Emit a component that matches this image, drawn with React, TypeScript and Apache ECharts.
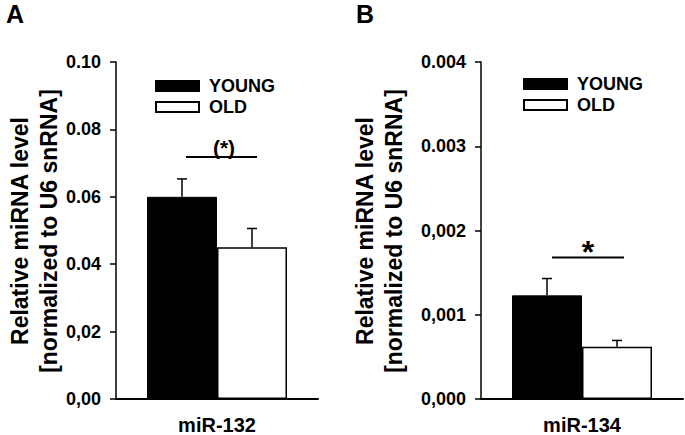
import React, { useEffect, useRef } from "react";
import * as echarts from "echarts";

// ---- data ----
const categoriesA = ["miR-132"];
const categoriesB = ["miR-134"];
const youngA = [0.06];
const youngSemA = [0.0053];
const oldA = [0.045];
const oldSemA = [0.0056];
const youngB = [0.00123];
const youngSemB = [0.0002];
const oldB = [0.00062];
const oldSemB = [0.000075];
const tickLabelsA = ["0,00", "0,02", "0.04", "0.06", "0.08", "0.10"];
const tickLabelsB = ["0,000", "0,001", "0,002", "0.003", "0.004"];
const sigA = [0.0718];
const sigB = [0.00168];
const sigTextA = "(*)";
const sigTextB = "*";

const FONT = "'Liberation Sans', Arial, sans-serif";
const BAR_W = 70;

function errorSeries(gridIdx: number, means: number[], sems: number[], dir: number) {
  return {
    type: "custom",
    xAxisIndex: gridIdx,
    yAxisIndex: gridIdx,
    z: 5,
    silent: true,
    data: means.map((m, i) => [i, m, sems[i]]),
    renderItem: (params: any, api: any) => {
      const base = api.coord([api.value(0), api.value(1)]);
      const top = api.coord([api.value(0), api.value(1) + api.value(2)]);
      const x = base[0] + (dir * BAR_W) / 2;
      const st = { stroke: "#000", lineWidth: 1.5 };
      return {
        type: "group",
        children: [
          { type: "line", shape: { x1: x, y1: base[1], x2: x, y2: top[1] }, style: st },
          { type: "line", shape: { x1: x - 5, y1: top[1], x2: x + 5, y2: top[1] }, style: st },
        ],
      };
    },
  };
}

function sigSeries(gridIdx: number, vals: number[], text: string, x1: number, x2: number, tx: number, ty: number, fs: number) {
  return {
    type: "custom",
    xAxisIndex: gridIdx,
    yAxisIndex: gridIdx,
    z: 5,
    silent: true,
    data: vals.map((v, i) => [i, v]),
    renderItem: (params: any, api: any) => {
      const p = api.coord([api.value(0), api.value(1)]);
      return {
        type: "group",
        children: [
          {
            type: "line",
            shape: { x1: p[0] + x1, y1: p[1], x2: p[0] + x2, y2: p[1] },
            style: { stroke: "#000", lineWidth: 2 },
          },
          {
            type: "text",
            x: p[0] + tx,
            y: p[1] + ty,
            style: {
              text,
              fill: "#000",
              font: `bold ${fs}px ${FONT}`,
              textAlign: "center",
              textVerticalAlign: "middle",
            },
          },
        ],
      };
    },
  };
}

function yAxis(gridIdx: number, max: number, interval: number, labels: string[]) {
  return {
    type: "value",
    gridIndex: gridIdx,
    min: 0,
    max,
    interval,
    splitLine: { show: false },
    axisLine: { show: true, lineStyle: { color: "#000", width: 1.5 } },
    axisTick: { show: true, length: 6, lineStyle: { color: "#000", width: 1.5 } },
    axisLabel: {
      margin: 15,
      color: "#000",
      fontFamily: FONT,
      fontWeight: "bold",
      fontSize: 18,
      formatter: (_v: number, idx: number) => labels[idx],
    },
  };
}

function xAxis(gridIdx: number, cats: string[]) {
  return {
    type: "category",
    gridIndex: gridIdx,
    data: cats,
    axisLine: { show: true, lineStyle: { color: "#000", width: 2 } },
    axisTick: { show: false },
    axisLabel: {
      margin: 16,
      color: "#000",
      fontFamily: FONT,
      fontWeight: "bold",
      fontSize: 20,
    },
  };
}

function legend(left: number, top: number) {
  return {
    left,
    top,
    orient: "vertical",
    icon: "rect",
    itemWidth: 43,
    itemHeight: 10,
    itemGap: 3,
    data: ["YOUNG", "OLD"],
    selectedMode: false,
    textStyle: {
      color: "#000",
      fontFamily: FONT,
      fontWeight: "bold",
      fontSize: 18,
      padding: [0, 0, 0, 5],
    },
  };
}

const youngStyle = { color: "#000", borderColor: "#000", borderWidth: 1 };
const oldStyle = { color: "#fff", borderColor: "#000", borderWidth: 1.5 };

export default function App() {
  const ref = useRef<HTMLDivElement>(null);
  useEffect(() => {
    if (!ref.current) return;
    const chart = echarts.init(ref.current, undefined, { renderer: "svg" });
    const titleText = "Relative miRNA level\n[normalized to U6 snRNA]";
    const titleStyle = {
      text: titleText,
      fill: "#000",
      font: `bold 23px ${FONT}`,
      lineHeight: 29,
      textAlign: "center",
      textVerticalAlign: "middle",
    };
    chart.setOption({
      animation: false,
      backgroundColor: "#fff",
      grid: [
        { left: 116, top: 62, width: 202, height: 338 },
        { left: 481, top: 62, width: 202, height: 338 },
      ],
      xAxis: [xAxis(0, categoriesA), xAxis(1, categoriesB)],
      yAxis: [yAxis(0, 0.1, 0.02, tickLabelsA), yAxis(1, 0.004, 0.001, tickLabelsB)],
      legend: [legend(150, 72), legend(518, 70)],
      series: [
        { type: "bar", name: "YOUNG", xAxisIndex: 0, yAxisIndex: 0, data: youngA, barWidth: BAR_W, barGap: "0%", itemStyle: youngStyle },
        { type: "bar", name: "OLD", xAxisIndex: 0, yAxisIndex: 0, data: oldA, barWidth: BAR_W, barGap: "0%", itemStyle: oldStyle },
        { type: "bar", name: "YOUNG", xAxisIndex: 1, yAxisIndex: 1, data: youngB, barWidth: BAR_W, barGap: "0%", itemStyle: youngStyle },
        { type: "bar", name: "OLD", xAxisIndex: 1, yAxisIndex: 1, data: oldB, barWidth: BAR_W, barGap: "0%", itemStyle: oldStyle },
        errorSeries(0, youngA, youngSemA, -1),
        errorSeries(0, oldA, oldSemA, 1),
        errorSeries(1, youngB, youngSemB, -1),
        errorSeries(1, oldB, oldSemB, 1),
        sigSeries(0, sigA, sigTextA, -31, 40, 7, -10, 21),
        sigSeries(1, sigB, sigTextB, -30, 42, 6, -5, 32),
      ],
      graphic: [
        { type: "text", left: 6, top: 1, style: { text: "A", fill: "#000", font: `bold 25px ${FONT}` } },
        { type: "text", left: 356, top: 1, style: { text: "B", fill: "#000", font: `bold 25px ${FONT}` } },
        { type: "text", x: 34, y: 231, rotation: Math.PI / 2, style: titleStyle },
        { type: "text", x: 379, y: 231, rotation: Math.PI / 2, style: titleStyle },
      ],
    });
    return () => chart.dispose();
  }, []);
  return <div ref={ref} style={{ position: "absolute", left: 0, top: 0, width: 685, height: 435 }} />;
}
